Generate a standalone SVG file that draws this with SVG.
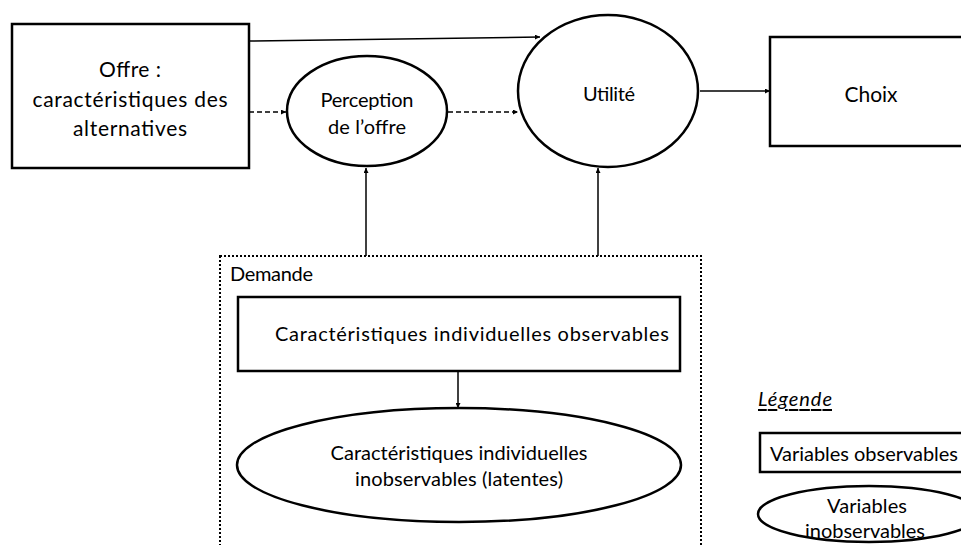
<svg xmlns="http://www.w3.org/2000/svg" width="961" height="545" viewBox="0 0 961 545">
<defs>
<marker id="ah" viewBox="0 0 10 10" refX="10" refY="5" markerWidth="5" markerHeight="5" markerUnits="userSpaceOnUse" orient="auto">
<path d="M0,0 L10,5 L0,10 z" fill="#000"/>
</marker>
</defs>
<style>
.box{fill:#fff;stroke:#000;stroke-width:2.5}
.t{font-family:Lato,"Open Sans","Liberation Sans",sans-serif;font-size:21px;fill:#000;text-anchor:middle;dominant-baseline:central}
.s{font-size:20px}
.l{text-anchor:start}
.c{fill:none;stroke:#000;stroke-width:1.5}
.d{stroke-dasharray:5,3}
</style>
<rect width="961" height="545" fill="#fff"/>
<g id="demande">
<rect x="220" y="256" width="481" height="300" fill="none" stroke="#000" stroke-width="2" stroke-dasharray="2,2"/>
<text class="t s l" x="230" y="273" textLength="83">Demande</text>
</g>
<g id="connectors">
<line class="c" x1="249" y1="41" x2="540" y2="37" marker-end="url(#ah)"/>
<line class="c d" x1="249" y1="112" x2="286" y2="112" marker-end="url(#ah)"/>
<line class="c d" x1="448" y1="112" x2="518" y2="112" marker-end="url(#ah)"/>
<line class="c" x1="700" y1="91" x2="770" y2="91" marker-end="url(#ah)"/>
<line class="c" x1="366" y1="256" x2="366" y2="168" marker-end="url(#ah)"/>
<line class="c" x1="598" y1="256" x2="598" y2="168" marker-end="url(#ah)"/>
<line class="c" x1="458" y1="371" x2="458" y2="408" marker-end="url(#ah)"/>
</g>
<g id="offre">
<rect class="box" x="12" y="24" width="237" height="144"/>
<text class="t" x="130" y="68" textLength="62">Offre :</text>
<text class="t" x="130" y="98" textLength="195">caractéristiques des</text>
<text class="t" x="130" y="127" textLength="114">alternatives</text>
</g>
<g id="perception">
<ellipse class="box" cx="367" cy="111" rx="80" ry="55"/>
<text class="t s" x="367" y="99" textLength="93">Perception</text>
<text class="t s" x="367" y="126" textLength="78">de l’offre</text>
</g>
<g id="utilite">
<ellipse class="box" cx="608" cy="91" rx="90" ry="76"/>
<text class="t s" x="609" y="93" textLength="52">Utilité</text>
</g>
<g id="choix">
<rect class="box" x="770" y="37" width="200" height="109"/>
<text class="t" x="871" y="93" textLength="53">Choix</text>
</g>
<g id="obs">
<rect class="box" x="238" y="297" width="442" height="74"/>
<text class="t s" x="472" y="333" textLength="394">Caractéristiques individuelles observables</text>
</g>
<g id="latent">
<ellipse class="box" cx="459" cy="465" rx="222" ry="57"/>
<text class="t s" x="459" y="452" textLength="257">Caractéristiques individuelles</text>
<text class="t s" x="459" y="478" textLength="208">inobservables (latentes)</text>
</g>
<g id="legende">
<text class="t s l" x="758" y="398" textLength="74" style="font-style:italic;text-decoration:underline">Légende</text>
<rect class="box" x="760" y="433" width="210" height="39"/>
<text class="t s l" x="770" y="453" textLength="188">Variables observables</text>
<ellipse class="box" cx="869" cy="514" rx="111" ry="28"/>
<text class="t s" x="867" y="505" textLength="80">Variables</text>
<text class="t s" x="865" y="530" textLength="120">inobservables</text>
</g>
</svg>
